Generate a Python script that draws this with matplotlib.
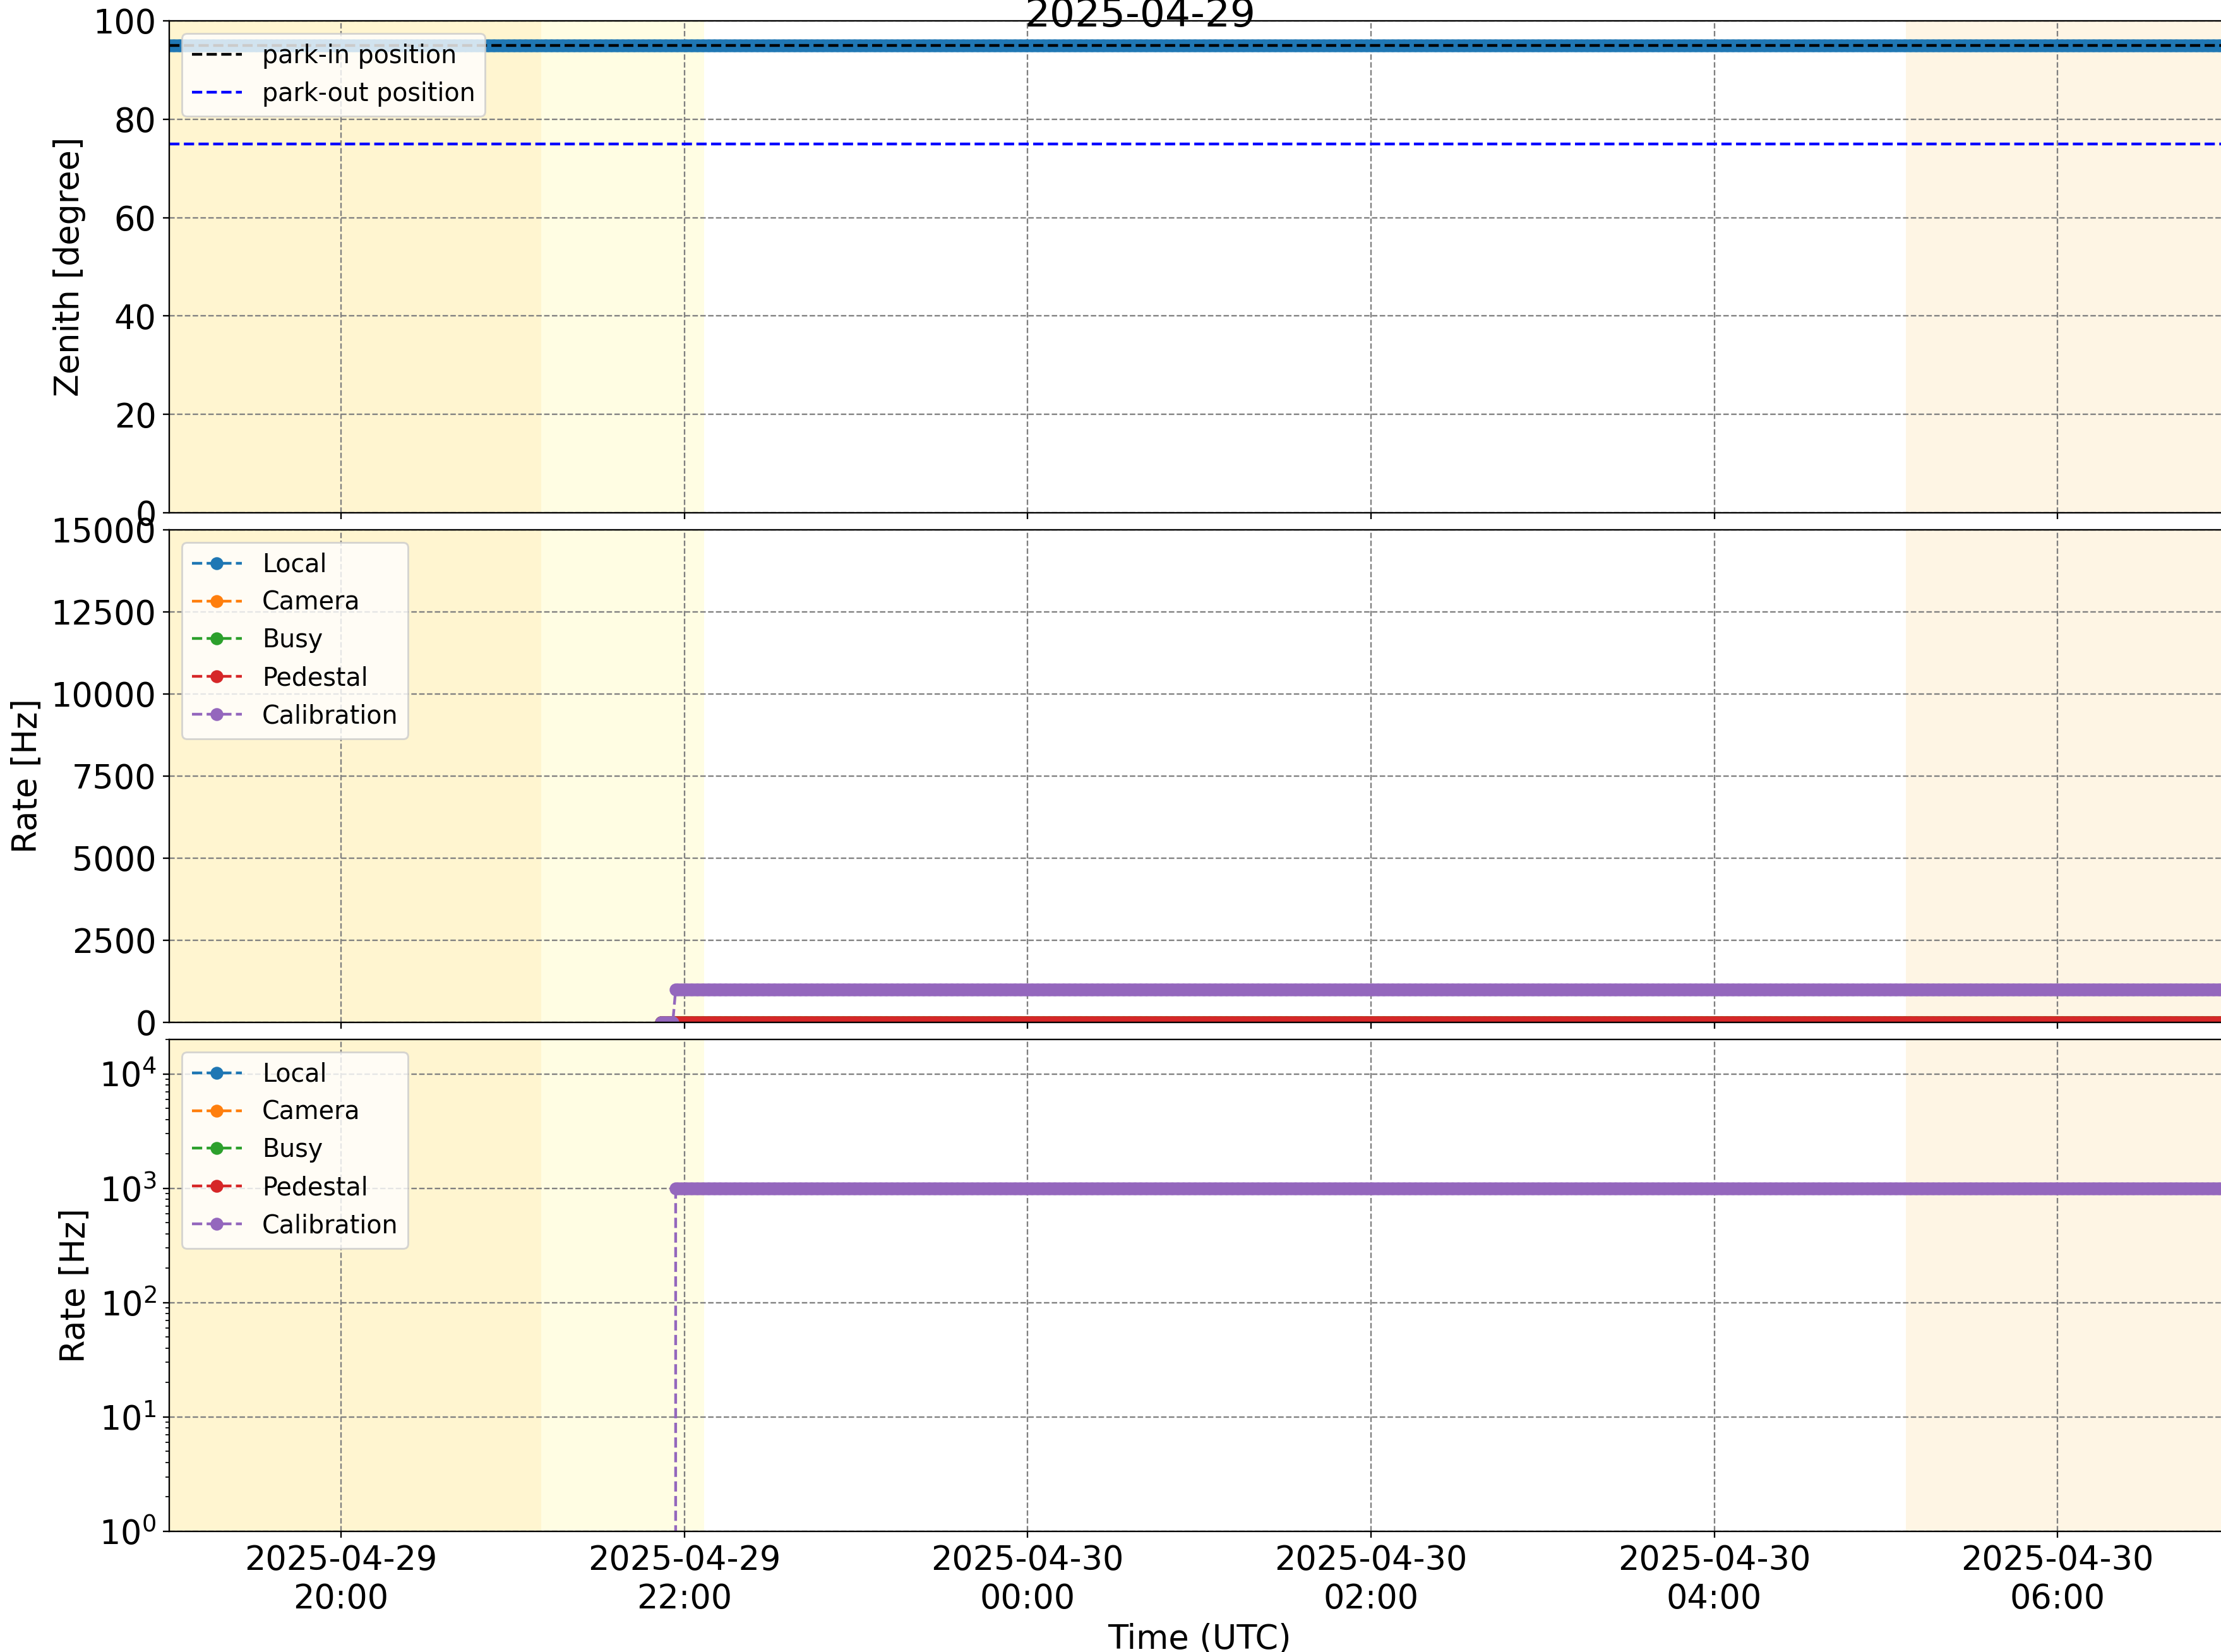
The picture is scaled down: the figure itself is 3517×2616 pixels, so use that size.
import matplotlib
matplotlib.use("Agg")
import matplotlib.pyplot as plt
import matplotlib.dates as mdates
import pandas as pd

# ---------------- data ----------------
title = "2025-04-29"
x_start = "2025-04-29 19:00"
x_end = "2025-04-30 07:00"

# zenith: piecewise-constant segments (start, end, value)
zenith_segments = [("2025-04-29 19:00", "2025-04-30 07:00", 95.0)]
park_in = 95.0
park_out = 75.0

rate_names = ["Local", "Camera", "Busy", "Pedestal", "Calibration"]
rate_colors = ["C0", "C1", "C2", "C3", "C4"]
local_segments = [("2025-04-29 21:52", "2025-04-30 07:00", 0.0)]
camera_segments = [("2025-04-29 21:52", "2025-04-30 07:00", 0.0)]
busy_segments = [("2025-04-29 21:52", "2025-04-30 07:00", 0.0)]
pedestal_segments = [("2025-04-29 21:52", "2025-04-30 07:00", 0.0)]
calibration_segments = [("2025-04-29 21:52", "2025-04-29 21:56", 0.0),
                        ("2025-04-29 21:57", "2025-04-30 07:00", 1000.0)]
rate_segments = [local_segments, camera_segments, busy_segments,
                 pedestal_segments, calibration_segments]

# twilight / daylight shading (start, end, colour)
shade_spans = [("2025-04-29 19:00", "2025-04-29 21:10", "#FFF5D0"),
               ("2025-04-29 21:10", "2025-04-29 22:07", "#FFFDE3"),
               ("2025-04-30 05:07", "2025-04-30 07:00", "#FEF5E4")]


def expand(segments):
    times, values = [], []
    for s, e, v in segments:
        t = pd.date_range(s, e, freq="1min")
        times.extend(t)
        values.extend([v] * len(t))
    return pd.DatetimeIndex(times), values


# ---------------- figure ----------------
W, H, DPI = 3517, 2616, 210
fig = plt.figure(figsize=(W / DPI, H / DPI), dpi=DPI)

left = 268 / W
right = 3530 / W
width = right - left


def box(top_px, bot_px):
    return [left, 1 - bot_px / H, width, (bot_px - top_px) / H]


ax1 = fig.add_axes(box(33, 812))
ax2 = fig.add_axes(box(839, 1619), sharex=ax1)
ax3 = fig.add_axes(box(1646, 2425), sharex=ax1)

TICK = 18
LEG = 13.6

for ax in (ax1, ax2, ax3):
    for s, e, c in shade_spans:
        ax.axvspan(pd.Timestamp(s), pd.Timestamp(e), color=c, lw=0, zorder=0)
    ax.grid(True, ls="--", color="gray")
    ax.tick_params(labelsize=TICK)

# panel 1: zenith
zt, zv = expand(zenith_segments)
ax1.plot(zt, zv, "o-", color="C0")
ax1.axhline(park_in, color="k", ls="--", label="park-in position")
ax1.axhline(park_out, color="b", ls="--", label="park-out position")
ax1.set_ylim(0, 100)
ax1.set_ylabel("Zenith [degree]", fontsize=TICK)
ax1.legend(loc="upper left", fontsize=LEG)

# panel 2: linear rates
for name, col, segs in zip(rate_names, rate_colors, rate_segments):
    t, v = expand(segs)
    ax2.plot(t, v, "o--", color=col, label=name)
ax2.set_ylim(0, 15000)
ax2.set_yticks([0, 2500, 5000, 7500, 10000, 12500, 15000])
ax2.set_ylabel("Rate [Hz]", fontsize=TICK)
ax2.legend(loc="upper left", fontsize=LEG)

# panel 3: log rates
for name, col, segs in zip(rate_names, rate_colors, rate_segments):
    t, v = expand(segs)
    ax3.plot(t, v, "o--", color=col, label=name)
ax3.set_yscale("log")
ax3.set_ylim(1, 2e4)
ax3.set_ylabel("Rate [Hz]", fontsize=TICK)
ax3.legend(loc="upper left", fontsize=LEG)

ax3.set_xlim(pd.Timestamp(x_start), pd.Timestamp(x_end))
ax3.xaxis.set_major_locator(mdates.HourLocator(byhour=range(0, 24, 2)))
ax3.xaxis.set_major_formatter(mdates.DateFormatter("%Y-%m-%d\n%H:%M"))
for ax in (ax1, ax2):
    plt.setp(ax.get_xticklabels(), visible=False)
ax3.set_xlabel("Time (UTC)", fontsize=TICK)

fig.text(1805 / W, 1 - 42 / H, title, ha="center", va="baseline", fontsize=21.6)

fig.savefig("out.png", dpi=DPI)
